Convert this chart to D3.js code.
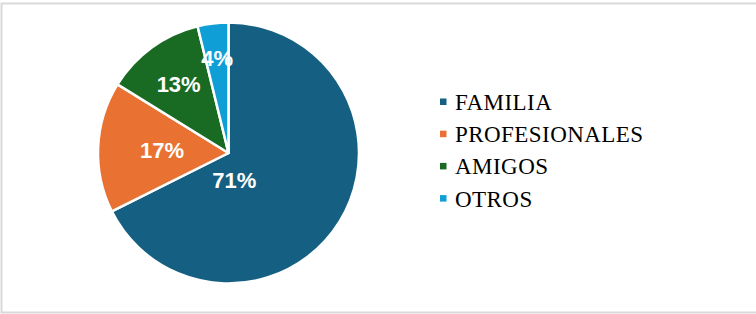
<!DOCTYPE html>
<html>
<head>
<meta charset="utf-8">
<script src="https://cdn.jsdelivr.net/npm/d3@7"></script>
<style>
  html, body { margin: 0; padding: 0; background: #fff; }
  svg { display: block; }
</style>
</head>
<body>
<svg id="chart" width="756" height="314"></svg>
<script>
const categories = ["FAMILIA", "PROFESIONALES", "AMIGOS", "OTROS"];
const values = [71, 17, 13, 4];
const colors = ["#156082", "#E97132", "#196B24", "#0F9ED5"];

const svg = d3.select("#chart");
const W = 756, H = 314;

// chart border
svg.append("rect")
  .attr("x", 1.5).attr("y", 3.5)
  .attr("width", W + 4).attr("height", 309)
  .attr("fill", "#fff")
  .attr("stroke", "#d9d9d9").attr("stroke-width", 2);

const cx = 228.5, cy = 153, R = 130.5;
const data = categories.map((c, i) => ({ cat: c, value: values[i], color: colors[i] }));

const pie = d3.pie().value(d => d.value).sort(null);
const arcs = pie(data);
const arc = d3.arc().innerRadius(0).outerRadius(R);

const g = svg.append("g").attr("transform", `translate(${cx},${cy})`);

g.selectAll("path.slice")
  .data(arcs)
  .join("path")
  .attr("class", "slice")
  .attr("d", arc)
  .attr("fill", d => d.data.color)
  .attr("stroke", "#fff")
  .attr("stroke-width", 2.5)
  .attr("stroke-linejoin", "round");

// label placement (Excel best-fit approximation)
const labelRadiusFrac = [0.21, 0.51, 0.65, 0.73];
function labelPos(d, i) {
  let a = (d.startAngle + d.endAngle) / 2;
  if (i === 0) a = d.startAngle + (d.endAngle - d.startAngle) * 0.69;
  const r = R * labelRadiusFrac[i];
  return [Math.sin(a) * r, -Math.cos(a) * r];
}

g.selectAll("text.lbl")
  .data(arcs)
  .join("text")
  .attr("class", "lbl")
  .attr("transform", (d, i) => `translate(${labelPos(d, i)})`)
  .attr("text-anchor", "middle")
  .attr("dy", "0.36em")
  .attr("font-family", "Liberation Sans, Arial, sans-serif")
  .attr("font-weight", "bold")
  .attr("font-size", 22)
  .attr("fill", "#fff")
  .text(d => d.data.value + "%");

// legend
const leg = svg.append("g").attr("transform", "translate(440,110)");
const items = leg.selectAll("g.item")
  .data(data)
  .join("g")
  .attr("class", "item")
  .attr("transform", (d, i) => `translate(0,${i * 32.2})`);

items.append("rect")
  .attr("x", 0).attr("y", -11.5)
  .attr("width", 6.5).attr("height", 6.5)
  .attr("fill", d => d.color);

items.append("text")
  .attr("x", 15).attr("y", 0)
  .attr("font-family", "Liberation Serif, 'Times New Roman', serif")
  .attr("font-size", 23)
  .attr("letter-spacing", 0.45)
  .attr("fill", "#000")
  .text(d => d.cat);
</script>
</body>
</html>
